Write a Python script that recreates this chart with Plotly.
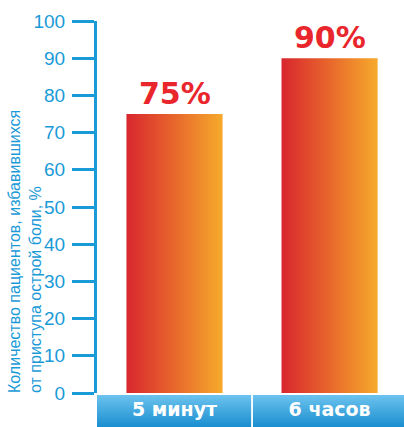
import plotly.graph_objects as go

categories = ["5 минут", "6 часов"]
values = [75, 90]
value_labels = ["75%", "90%"]
y_ticks = list(range(0, 101, 10))
y_title = "Количество пациентов, избавившихся<br>от приступа острой боли, %"

BLUE = "#1a9ad7"
RED_TEXT = "#e8262b"
bar_scale = [[0, "#d8262e"], [0.5, "#e8672c"], [1, "#f6aa2c"]]
box_scale = [[0, "#1a8ecf"], [1, "#6cc3ee"]]

W, H = 404, 427
ML, MR, MT, MB = 97, 0, 21, 0
plot_h = H - MT - MB

fig = go.Figure()
half = 0.31
for i, v in enumerate(values):
    fig.add_trace(go.Scatter(
        x=[i - half, i + half, i + half, i - half, i - half],
        y=[0, 0, v, v, 0],
        mode="lines", line=dict(width=0), fill="toself",
        fillgradient=dict(type="horizontal", colorscale=bar_scale),
        hoverinfo="skip", showlegend=False, xaxis="x", yaxis="y"))
    fig.add_annotation(x=i, y=v, xref="x", yref="y", text=value_labels[i],
                       showarrow=False, yanchor="bottom", yshift=1,
                       font=dict(family="DejaVu Sans", size=30,
                                 color=RED_TEXT, weight="bold"))

gap = 0.006
for i, c in enumerate(categories):
    x0 = i - 0.5 + (gap if i > 0 else 0)
    x1 = i + 0.5 - (gap if i < len(categories) - 1 else 0)
    fig.add_trace(go.Scatter(
        x=[x0, x1, x1, x0, x0], y=[0, 0, 1, 1, 0],
        mode="lines", line=dict(width=0), fill="toself",
        fillgradient=dict(type="vertical", colorscale=box_scale),
        hoverinfo="skip", showlegend=False, xaxis="x", yaxis="y2"))
fig.add_trace(go.Scatter(
    x=list(range(len(categories))), y=[0.5] * len(categories),
    text=categories, mode="text", textposition="middle center",
    textfont=dict(family="DejaVu Sans", size=19, color="white", weight="bold"),
    hoverinfo="skip", showlegend=False, xaxis="x", yaxis="y2"))

fig.add_annotation(
    xref="paper", yref="paper",
    x=(25 - ML) / (W - ML - MR), y=(H - MB - 252) / plot_h,
    text=y_title, textangle=-90, showarrow=False, align="left",
    xanchor="center", yanchor="middle",
    font=dict(family="Liberation Sans, Arial", size=16, color=BLUE))

fig.update_layout(
    width=W, height=H, margin=dict(l=ML, r=MR, t=MT, b=MB, autoexpand=False),
    paper_bgcolor="white", plot_bgcolor="white",
    xaxis=dict(range=[-0.5, 1.48], showgrid=False, zeroline=False,
               showticklabels=False, ticks="", showline=False, fixedrange=True,
               automargin=False),
    yaxis=dict(domain=[34 / plot_h, 1], range=[0, 100], tickvals=y_ticks,
               showgrid=False, zeroline=False, showline=True, linecolor=BLUE,
               linewidth=3, ticks="outside", ticklen=22, tickwidth=2.5,
               tickcolor=BLUE, ticklabelstandoff=3, automargin=False,
               tickfont=dict(family="Liberation Sans, Arial", size=19, color=BLUE)),
    yaxis2=dict(domain=[0, 32 / plot_h], range=[0, 1], showgrid=False,
                zeroline=False, showticklabels=False, showline=False,
                automargin=False),
    showlegend=False,
)

fig.write_html("out.html")
